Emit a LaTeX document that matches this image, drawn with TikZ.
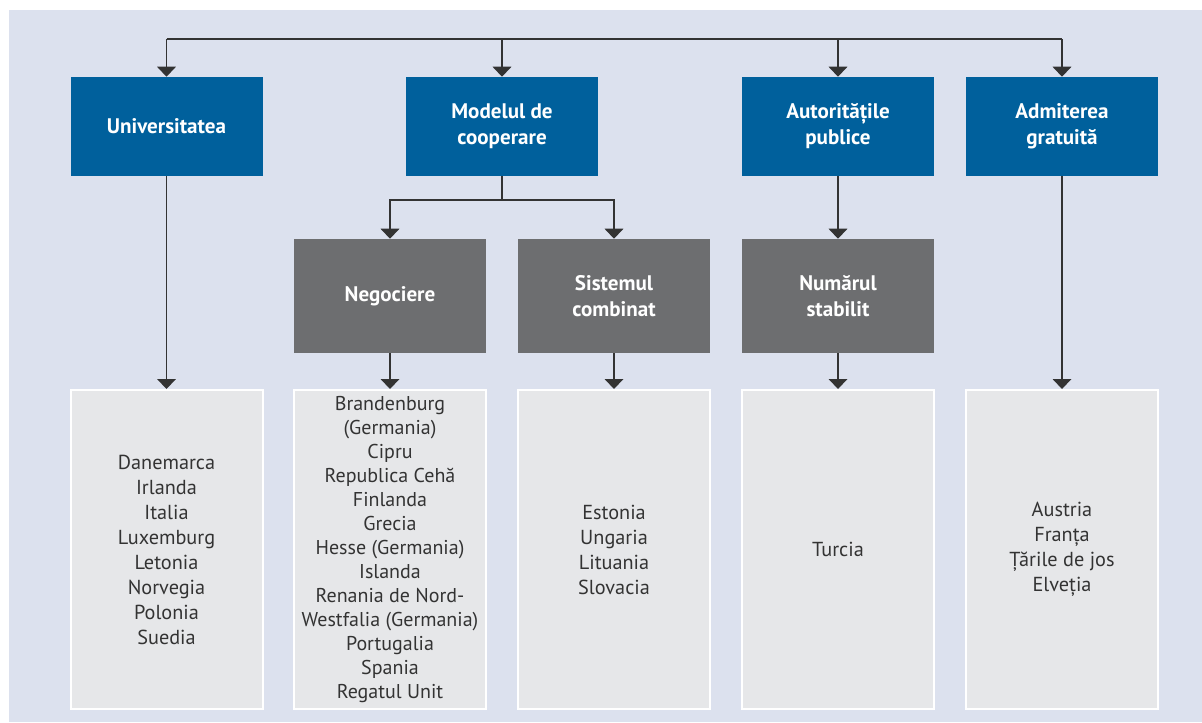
\documentclass[tikz,border=0pt]{standalone}
\usepackage{fontspec}
\setmainfont{PT Sans}
\usetikzlibrary{arrows.meta, positioning}
\definecolor{bgblue}{HTML}{DCE1EE}
\definecolor{headblue}{HTML}{00609C}
\definecolor{midgray}{HTML}{6D6E70}
\definecolor{listgray}{HTML}{E6E7E9}
\definecolor{linegray}{HTML}{333333}

\begin{document}
\begin{tikzpicture}[x=0.75pt, y=-0.75pt,
    headbox/.style={fill=headblue, text=white, align=center, inner sep=0pt,
      minimum width=144pt, minimum height=74.25pt,
      font=\bfseries\fontsize{15.8}{19.5}\selectfont},
    midbox/.style={headbox, fill=midgray, minimum height=85.5pt},
    listbox/.style={fill=listgray, draw=white, line width=1.5pt, text=linegray,
      align=center, inner sep=0pt, minimum width=144pt, minimum height=239.25pt,
      font=\fontsize{15.2}{18.75}\selectfont},
    conn/.style={draw=linegray, line width=1pt},
    arr/.style={conn, -{Triangle[width=14pt, length=7.5pt]}}]

  \useasboundingbox (0,0) rectangle (1202,722);
  \fill[bgblue] (9,10) rectangle (1202,722);

  % first row
  \node[headbox] (uni) at (166.5,126.5) {Universitatea};
  \node[headbox] (mod) at (502,126.5) {Modelul de\\cooperare};
  \node[headbox] (aut) at (838,126.5) {Autoritățile\\publice};
  \node[headbox] (adm) at (1062,126.5) {Admiterea\\gratuită};

  % second row
  \node[midbox] (neg) at (390,296) {Negociere};
  \node[midbox] (sis) at (614,296) {Sistemul\\combinat};
  \node[midbox] (num) at (838,296) {Numărul\\stabilit};

  % countries
  \node[listbox] (uniL) at (166.5,549.5) {Danemarca\\Irlanda\\Italia\\Luxemburg\\Letonia\\Norvegia\\Polonia\\Suedia};
  \node[listbox, font=\fontsize{15}{18}\selectfont] (negL) at (390,549.5) {Brandenburg\\(Germania)\\Cipru\\Republica Cehă\\Finlanda\\Grecia\\Hesse (Germania)\\Islanda\\Renania de Nord-\\Westfalia (Germania)\\Portugalia\\Spania\\Regatul Unit};
  \node[listbox] (sisL) at (614,549.5) {Estonia\\Ungaria\\Lituania\\Slovacia};
  \node[listbox] (numL) at (838,549.5) {Turcia};
  \node[listbox] (admL) at (1062,549.5) {Austria\\Franța\\Țările de jos\\Elveția};

  % top bar
  \coordinate (barL) at (166.5,39);
  \coordinate (barR) at (1062,39);
  \draw[conn] (barL) -- (barR);
  \foreach \n in {uni,mod,aut,adm}
    \draw[arr] (\n.north |- barL) -- (\n.north);

  % links
  \coordinate (split) at (502,200);
  \draw[conn] (mod.south) -- (split);
  \draw[arr] (split) -| (neg.north);
  \draw[arr] (split) -| (sis.north);
  \draw[arr] (aut) -- (num);
  \draw[arr] (uni) -- (uniL);
  \draw[arr] (neg) -- (negL);
  \draw[arr] (sis) -- (sisL);
  \draw[arr] (num) -- (numL);
  \draw[arr] (adm) -- (admL);
\end{tikzpicture}
\end{document}
